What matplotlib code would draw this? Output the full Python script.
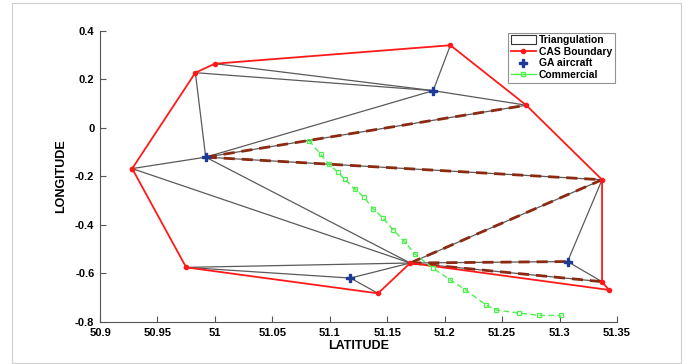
import numpy as np
import matplotlib
matplotlib.use("Agg")
import matplotlib.pyplot as plt
from matplotlib.patches import Rectangle, Patch
from matplotlib.lines import Line2D
from matplotlib.ticker import FuncFormatter

plt.rcParams['font.family'] = ['Liberation Sans', 'DejaVu Sans']

# CAS boundary vertices (closed polygon)
cas_lat = [50.928, 50.983, 51.000, 51.205, 51.271, 51.337, 51.337, 51.343, 51.170, 51.142, 50.975, 50.928]
cas_lon = [-0.168, 0.227, 0.264, 0.340, 0.093, -0.214, -0.634, -0.668, -0.557, -0.682, -0.575, -0.168]

# GA aircraft positions
ga_lat = [50.992, 51.190, 51.307, 51.118]
ga_lon = [-0.121, 0.153, -0.551, -0.619]

# commercial track
com_lat = [51.082, 51.092, 51.099, 51.107, 51.113, 51.122, 51.130, 51.138, 51.146, 51.155,
           51.165, 51.174, 51.190, 51.205, 51.218, 51.236, 51.245, 51.265, 51.282, 51.301]
com_lon = [-0.053, -0.109, -0.150, -0.183, -0.212, -0.253, -0.287, -0.335, -0.370, -0.420,
           -0.468, -0.520, -0.579, -0.627, -0.667, -0.730, -0.751, -0.763, -0.773, -0.773]

# vertex table: B1..B11 boundary, G1..G4 aircraft
nodes = {f"B{i+1}": (cas_lat[i], cas_lon[i]) for i in range(11)}
nodes.update({f"G{i+1}": (ga_lat[i], ga_lon[i]) for i in range(4)})

tri_edges = [("B3", "G2"), ("B2", "G2"), ("G2", "B4"), ("G2", "B5"), ("B2", "G1"),
             ("G1", "B1"), ("G1", "G2"), ("G1", "B5"), ("G1", "B6"), ("G1", "B9"),
             ("B1", "B9"), ("B11", "B9"), ("B11", "G4"), ("G4", "B9"), ("G4", "B10"),
             ("B9", "B6"), ("B9", "G3"), ("B9", "B7"), ("G3", "B6"), ("G3", "B7")]
path_edges = [("G1", "B5"), ("G1", "B6"), ("B9", "B6"), ("B9", "G3"), ("B9", "B7")]

fig = plt.figure(figsize=(6.85, 3.64), dpi=100)
fig.patches.append(Rectangle((12 / 685, 1 / 364), 669 / 685, 360 / 364, transform=fig.transFigure,
                             fill=False, edgecolor="#cfcfcf", linewidth=0.8))
ax = fig.add_axes([0.146, 0.1154, 0.7547, 0.8003])

for a, b in tri_edges:
    (x1, y1), (x2, y2) = nodes[a], nodes[b]
    ax.plot([x1, x2], [y1, y2], color="#5a5a5a", linewidth=0.9, zorder=1)
for a, b in path_edges:
    (x1, y1), (x2, y2) = nodes[a], nodes[b]
    ax.plot([x1, x2], [y1, y2], color="#8b2a10", linewidth=2.0, dashes=(4, 2.5), zorder=2)

ax.plot(cas_lat, cas_lon, color="#ff1a1a", linewidth=1.3, marker=".", markersize=6, zorder=3)
ax.plot(ga_lat, ga_lon, linestyle="none", marker="P", markersize=5.5, color="#1c3a96", zorder=4)
ax.plot(com_lat, com_lon, color="#4ef04e", linewidth=1.0, dashes=(4, 2.5), marker="s",
        markersize=3.5, markerfacecolor="none", markeredgewidth=0.9, zorder=5)

ax.set_xlim(50.9, 51.35)
ax.set_ylim(-0.8, 0.4)
ax.set_xticks(np.arange(50.9, 51.351, 0.05))
ax.set_yticks(np.arange(-0.8, 0.401, 0.2))
fmt = FuncFormatter(lambda v, p: f"{round(v, 2) + 0.0:g}".replace("-0", "0") if abs(v) < 1e-9 else f"{round(v, 2):g}")
ax.xaxis.set_major_formatter(fmt)
ax.yaxis.set_major_formatter(fmt)
ax.tick_params(direction="in", length=4, width=0.8, color="#555555", labelsize=8, pad=4)
for lab in ax.get_xticklabels() + ax.get_yticklabels():
    lab.set_fontweight("bold")
for s in ["top", "right"]:
    ax.spines[s].set_visible(False)
for s in ["left", "bottom"]:
    ax.spines[s].set_color("#555555")
    ax.spines[s].set_linewidth(0.8)

ax.set_xlabel("LATITUDE", fontsize=9, fontweight="bold", labelpad=2)
ax.set_ylabel("LONGITUDE", fontsize=9, fontweight="bold", labelpad=6)

handles = [Patch(facecolor="white", edgecolor="#333333", linewidth=0.8, label="Triangulation"),
           Line2D([], [], color="#ff1a1a", marker=".", markersize=6, linewidth=1.3, label="CAS Boundary"),
           Line2D([], [], color="#1c3a96", marker="P", markersize=5.5, linestyle="none", label="GA aircraft"),
           Line2D([], [], color="#4ef04e", marker="s", markersize=3.5, markerfacecolor="none",
                  linewidth=1.0, label="Commercial")]
leg = ax.legend(handles=handles, loc="upper right", bbox_to_anchor=(1.0, 1.0),
                prop={"weight": "bold", "size": 7.5}, frameon=True, fancybox=False,
                edgecolor="#777777", handlelength=2.4, handleheight=0.9, handletextpad=0.3,
                borderpad=0.25, labelspacing=0.15, borderaxespad=0.2)
leg.get_frame().set_linewidth(0.8)

fig.savefig("out.png", dpi=100)
